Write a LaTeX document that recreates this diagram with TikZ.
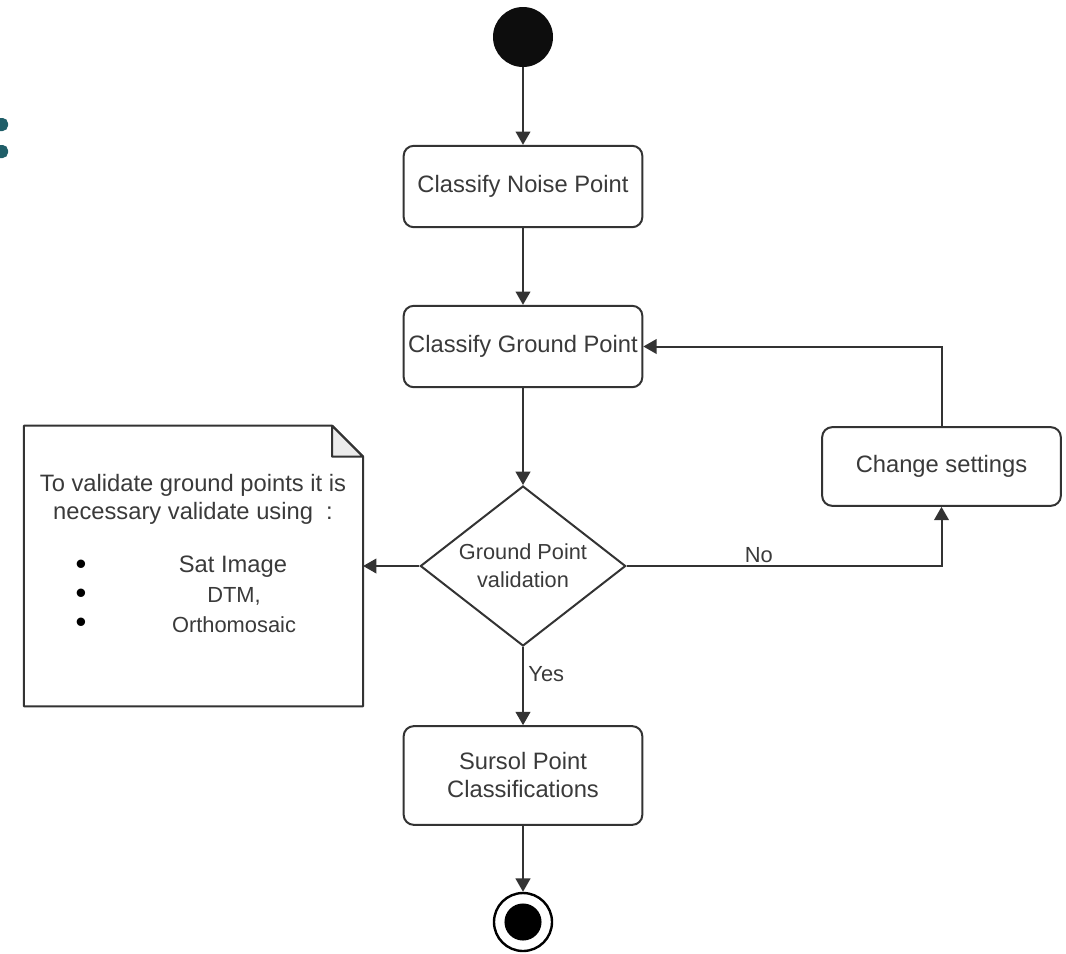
\documentclass[tikz,border=0pt]{standalone}
\usepackage{fontspec}
\setmainfont{Liberation Sans}
\usetikzlibrary{arrows.meta,calc,positioning,shapes.geometric}
\definecolor{linegray}{HTML}{333333}
\definecolor{textgray}{HTML}{3A3A3A}
\definecolor{foldgray}{HTML}{EBEBEB}
\definecolor{dotteal}{HTML}{1F5E68}

\begin{document}
\begin{tikzpicture}[x=0.75pt,y=-0.75pt,
    font=\fontsize{17.8}{21}\selectfont,text=textgray,
    act/.style={draw=linegray,line width=1.5pt,rounded corners=7.5pt,
      minimum width=179pt,minimum height=61pt,align=center,fill=white},
    decision/.style={diamond,draw=linegray,line width=1.5pt,aspect=1.28,
      inner sep=0pt,minimum width=154pt,minimum height=120pt,align=center,
      font=\fontsize{16.3}{21}\selectfont},
    flow/.style={draw=linegray,line width=1.5pt,-{Triangle[length=10pt,width=11pt]}},
    small/.style={font=\fontsize{16.4}{20}\selectfont}]
  \useasboundingbox (0,0) rectangle (1066,953);

  % marks cut at the left edge
  \fill[dotteal,rounded corners=4pt] (-10,118) rectangle (8,131);
  \fill[dotteal,rounded corners=4pt] (-10,145) rectangle (8,158);

  % activities
  \node[circle,fill=black!95,minimum size=45pt,inner sep=0pt] (start) at (523,37) {};
  \node[act] (noise) at (523,186.5) {Classify Noise Point};
  \node[act] (ground) at (523,346.5) {Classify Ground Point};
  \node[decision] (valid) at (523,566) {Ground Point\\validation};
  \node[act,minimum height=74pt] (sursol) at (523,775.5) {Sursol Point\\Classifications};
  \node[circle,draw=black,line width=1.8pt,minimum size=43.5pt,inner sep=0pt,
    path picture={\fill[black] (path picture bounding box.center) circle (13.9pt);}] (stop) at (523,922) {};
  \node[act,minimum height=59pt] (settings) at (941.5,466.5) {Change settings};

  % note
  \node[minimum width=254pt,minimum height=210pt,inner sep=0pt] (note) at (193.5,566) {};
  \draw[linegray,line width=1.5pt,line join=round] (note.north west)
    -- ($(note.north east)+(-31,0)$) -- ($(note.north east)+(0,31)$)
    -- (note.south east) -- (note.south west) -- cycle;
  \filldraw[draw=linegray,fill=foldgray,line width=1.5pt,line join=round]
    ($(note.north east)+(-31,0)$) -- ($(note.north east)+(-31,31)$)
    -- ($(note.north east)+(0,31)$) -- cycle;
  \node[align=center] (notehead) at (193,499) {To validate ground points it is\\necessary validate using\ \ :};
  \foreach \y/\nm in {567/sat,596/dtm,625/ortho}
    \node[text=black,scale=1.3] (bul-\nm) at (81,\y) {\textbullet};
  \node (sat) at (233,567) {Sat Image};
  \node[small] (dtm) at (234,596) {DTM,};
  \node[small] (ortho) at (234,625) {Orthomosaic};

  % connectors
  \draw[flow] (start) -- (noise);
  \draw[flow] (noise) -- (ground);
  \draw[flow] (ground) -- (valid);
  \draw[flow] (valid) -- (note);
  \draw[flow] (valid.east) -| node[pos=0.21,above,inner sep=2pt,small] (no) {No} (settings.south);
  \draw[flow] (settings.north) |- (ground.east);
  \draw[flow] (valid) -- node[pos=0.35,right,small] (yes) {Yes} (sursol);
  \draw[flow] (sursol) -- (stop);
\end{tikzpicture}
\end{document}
